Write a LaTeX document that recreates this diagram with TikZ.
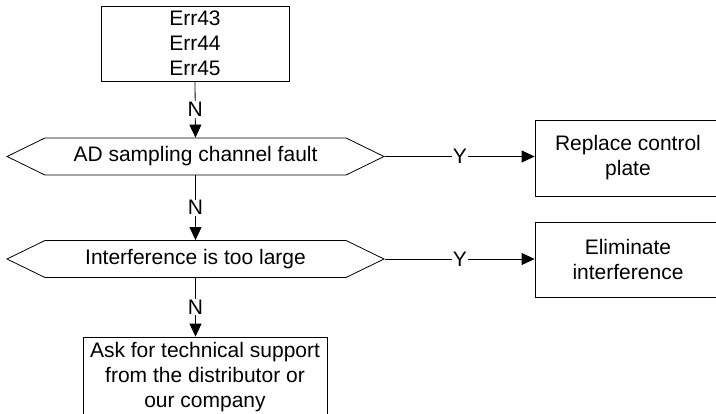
\documentclass[tikz,border=0pt]{standalone}
\usepackage{fontspec}
\setmainfont{Liberation Sans}
\usetikzlibrary{arrows.meta, shapes.symbols, positioning}
\begin{document}
\begin{tikzpicture}[x=1pt, y=-1pt,
    font=\fontsize{21}{25}\selectfont,
    box/.style={draw, line width=0.8pt, align=center, inner sep=2pt},
    decision/.style={draw, line width=0.8pt, signal, signal to=west and east,
      signal pointer angle=52, minimum width=377pt, minimum height=37pt, inner sep=0pt},
    arrow/.style={-{Triangle[length=13pt, width=12pt]}, line width=0.8pt},
    lbl/.style={fill=white, inner sep=1pt},
  ]
  \useasboundingbox (0,0) rectangle (716,413);
  \clip (0,0) rectangle (716,413);
  % boxes and decisions
  \node[box, minimum width=188pt, minimum height=75pt] (errs) at (195, 43.5) {Err43\\Err44\\Err45};
  \node[decision] (adfault) at (195.5, 156.5) {AD sampling channel fault};
  \node[box, minimum width=186pt, minimum height=76pt] (replace) at (628, 158) {Replace control\\plate};
  \node[decision] (interf) at (195.5, 259) {Interference is too large};
  \node[box, minimum width=186pt, minimum height=75pt] (elim) at (628, 259.5) {Eliminate\\interference};
  \node[box, minimum width=244pt, minimum height=80pt] (support) at (205, 377) {Ask for technical support\\from the distributor or\\our company};
  % connectors
  \draw[arrow] (errs.south) -- node[lbl] {N} (adfault.north);
  \draw[arrow] (adfault.south) -- node[lbl] {N} (interf.north);
  \draw[arrow] (interf.south) -- node[lbl] {N} (interf.south |- support.north);
  \draw[arrow] (adfault.east) -- node[lbl] {Y} (adfault.east -| replace.west);
  \draw[arrow] (interf.east) -- node[lbl] {Y} (interf.east -| elim.west);
\end{tikzpicture}
\end{document}
